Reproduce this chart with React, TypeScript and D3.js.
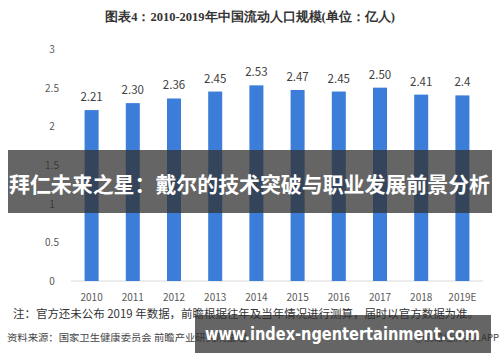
import {useEffect, useRef} from "react"

import * as d3 from "d3"

const years = ["2010", "2011", "2012", "2013", "2014", "2015", "2016", "2017", "2018", "2019E"]
const values = [2.21, 2.3, 2.36, 2.45, 2.53, 2.47, 2.45, 2.5, 2.41, 2.4]
const valueLabels = ["2.21", "2.30", "2.36", "2.45", "2.53", "2.47", "2.45", "2.50", "2.41", "2.4"]
const yTicks = [0, 0.5, 1, 1.5, 2, 2.5, 3]

const title = "图表4：2010-2019年中国流动人口规模(单位：亿人)"
const note = "注：官方还未公布 2019 年数据，前瞻根据往年及当年情况进行测算，届时以官方数据为准。"
const source = "资料来源：国家卫生健康委员会 前瞻产业研究院整理"
const credit = "@前瞻经济学人APP"
const banner = "拜仁未来之星：戴尔的技术突破与职业发展前景分析"
const site = "www.index-ngentertainment.com"

const W = 500
const H = 362
const font = "'Noto Sans CJK SC', 'Noto Sans', sans-serif"

const App = (): JSX.Element => {
  const ref = useRef<SVGSVGElement>(null)

  useEffect(() => {
    const svg = d3.select(ref.current)
    svg.selectAll("*").remove()

    svg.append("rect").attr("width", W).attr("height", H).attr("fill", "#fff")

    svg
      .append("text")
      .attr("x", 250)
      .attr("y", 21)
      .attr("text-anchor", "middle")
      .attr("font-size", 12.5)
      .attr("font-weight", "bold")
      .attr("fill", "#333")
      .text(title)

    const x = d3.scaleBand().domain(years).range([71, 483]).paddingInner(0.66).paddingOuter(0.33)
    const y = d3.scaleLinear().domain([0, 3]).range([281, 49])

    const g = svg.append("g").attr("font-family", font)

    g.append("line")
      .attr("x1", 71)
      .attr("x2", 483)
      .attr("y1", y(0))
      .attr("y2", y(0))
      .attr("stroke", "#d9d9d9")

    g.selectAll(".ytick")
      .data(yTicks)
      .join("text")
      .attr("x", 52)
      .attr("y", (d) => y(d) + 4)
      .attr("text-anchor", "middle")
      .attr("font-size", 10)
      .attr("fill", "#595959")
      .text((d) => String(d))

    g.selectAll(".bar")
      .data(values)
      .join("rect")
      .attr("x", (_, i) => x(years[i])!)
      .attr("y", (d) => y(d))
      .attr("width", x.bandwidth())
      .attr("height", (d) => y(0) - y(d))
      .attr("fill", "#3b7dd8")

    g.selectAll(".vlabel")
      .data(values)
      .join("text")
      .attr("x", (_, i) => x(years[i])! + x.bandwidth() / 2)
      .attr("y", (d) => y(d) - 9)
      .attr("text-anchor", "middle")
      .attr("font-size", 11.5)
      .attr("fill", "#404040")
      .text((_, i) => valueLabels[i])

    g.selectAll(".xlabel")
      .data(years)
      .join("text")
      .attr("x", (d) => x(d)! + x.bandwidth() / 2)
      .attr("y", 301)
      .attr("text-anchor", "middle")
      .attr("font-size", 10)
      .attr("fill", "#595959")
      .text((d) => d)

    svg
      .append("text")
      .attr("x", 13)
      .attr("y", 318)
      .attr("font-size", 11.5)
      .attr("font-family", font)
      .attr("fill", "#333")
      .attr("textLength", 466)
      .attr("lengthAdjust", "spacingAndGlyphs")
      .text(note)

    svg
      .append("text")
      .attr("x", 7)
      .attr("y", 341)
      .attr("font-size", 9.5)
      .attr("font-family", font)
      .attr("fill", "#444")
      .attr("textLength", 240)
      .attr("lengthAdjust", "spacingAndGlyphs")
      .text(source)

    svg
      .append("text")
      .attr("x", 499)
      .attr("y", 341)
      .attr("text-anchor", "end")
      .attr("font-size", 9.5)
      .attr("font-family", font)
      .attr("fill", "#444")
      .text(credit)

    // overlay banners
    svg
      .append("rect")
      .attr("x", 8)
      .attr("y", 150)
      .attr("width", 484)
      .attr("height", 63)
      .attr("fill", "rgba(50,50,50,0.75)")
    svg
      .append("text")
      .attr("x", 9)
      .attr("y", 192)
      .attr("font-size", 21)
      .attr("font-weight", "bold")
      .attr("font-family", font)
      .attr("fill", "#fff")
      .attr("textLength", 481)
      .attr("lengthAdjust", "spacingAndGlyphs")
      .text(banner)

    svg
      .append("rect")
      .attr("x", 195)
      .attr("y", 315)
      .attr("width", 296)
      .attr("height", 38)
      .attr("fill", "rgba(50,50,50,0.75)")
    svg
      .append("text")
      .attr("x", 205)
      .attr("y", 340)
      .attr("font-size", 18)
      .attr("font-weight", "bold")
      .attr("font-family", "'DejaVu Sans', sans-serif")
      .attr("fill", "#fff")
      .attr("textLength", 275)
      .attr("lengthAdjust", "spacingAndGlyphs")
      .text(site)
  }, [])

  return (
    <svg
      ref={ref}
      width={W}
      height={H}
      style={{position: "absolute", left: 0, top: 0}}
    />
  )
}

export default App
